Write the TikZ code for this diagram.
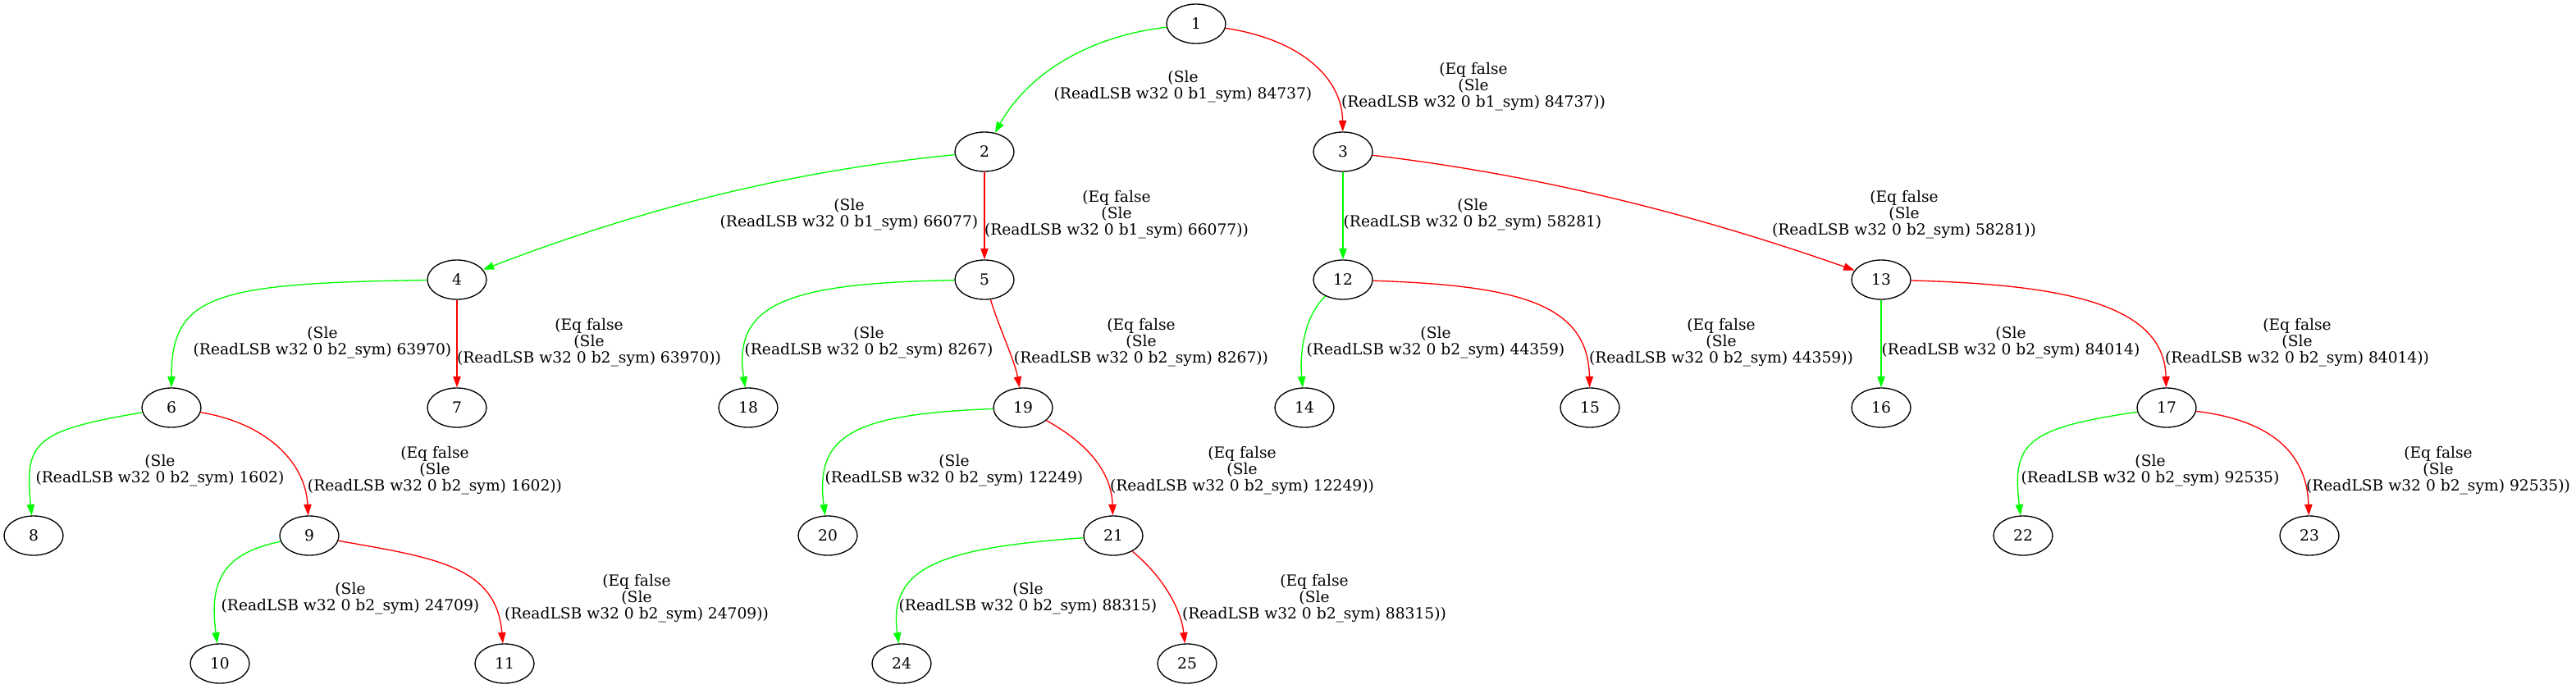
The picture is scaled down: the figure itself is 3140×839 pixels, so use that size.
\documentclass[tikz,border=0pt]{standalone}
\usepackage{fontspec}
\setmainfont{DejaVu Serif}
\usetikzlibrary{arrows.meta,shapes.geometric}
\definecolor{gvgreen}{RGB}{0,255,0}
\definecolor{gvred}{RGB}{255,0,0}
\begin{document}
\begin{tikzpicture}[x=0.75pt,y=-0.75pt,
  st/.style={draw=black,line width=1pt,ellipse,minimum width=54pt,minimum height=36pt,inner sep=0pt,font=\fontsize{14}{15}\selectfont},
  lb/.style={align=center,inner sep=0pt,font=\fontsize{14}{15}\selectfont},
  ge/.style={draw=gvgreen,line width=1pt,-{Triangle[length=10pt,width=7pt,fill=gvgreen]}},
  re/.style={draw=gvred,line width=1pt,-{Triangle[length=10pt,width=7pt,fill=gvred]}}]
\useasboundingbox (0,0) rectangle (3140,839);
% nodes
\node[st] (n1)  at (1458,29)  {1};
\node[st] (n2)  at (1200,185) {2};
\node[st] (n3)  at (1637,185) {3};
\node[st] (n4)  at (557,341)  {4};
\node[st] (n5)  at (1200,341) {5};
\node[st] (n12) at (1637,341) {12};
\node[st] (n13) at (2293,341) {13};
\node[st] (n6)  at (209,497)  {6};
\node[st] (n7)  at (557,497)  {7};
\node[st] (n18) at (912,497)  {18};
\node[st] (n19) at (1247,497) {19};
\node[st] (n14) at (1590,497) {14};
\node[st] (n15) at (1938,497) {15};
\node[st] (n16) at (2293,497) {16};
\node[st] (n17) at (2641,497) {17};
\node[st] (n8)  at (41,653)   {8};
\node[st] (n9)  at (377,653)  {9};
\node[st] (n20) at (1009,653) {20};
\node[st] (n21) at (1357,653) {21};
\node[st] (n22) at (2466,653) {22};
\node[st] (n23) at (2815,653) {23};
\node[st] (n10) at (268,809)  {10};
\node[st] (n11) at (615,809)  {11};
\node[st] (n24) at (1099,809) {24};
\node[st] (n25) at (1447,809) {25};
% edges
\draw[ge] (n1) .. controls (1320,45) and (1250,95) .. (n2);
\draw[re] (n1) .. controls (1585,48) and (1636,95) .. (n3);
\draw[ge] (n2) .. controls (1000,205) and (820,240) .. (n4);
\draw[re] (n2) -- (n5);
\draw[ge] (n3) -- (n12);
\draw[re] (n3) .. controls (1830,208) and (2020,245) .. (n13);
\draw[ge] (n4) .. controls (260,345) and (209,360) .. (n6);
\draw[re] (n4) -- (n7);
\draw[ge] (n5) .. controls (960,345) and (893,370) .. (n18);
\draw[re] (n5) .. controls (1218,400) and (1237,440) .. (n19);
\draw[ge] (n12) .. controls (1590,385) and (1584,430) .. (n14);
\draw[re] (n12) .. controls (1850,348) and (1936,370) .. (n15);
\draw[ge] (n13) -- (n16);
\draw[re] (n13) .. controls (2520,347) and (2638,372) .. (n17);
\draw[ge] (n6) .. controls (40,525) and (30,540) .. (n8);
\draw[re] (n6) .. controls (320,515) and (372,560) .. (n9);
\draw[ge] (n19) .. controls (1040,505) and (993,530) .. (n20);
\draw[re] (n19) .. controls (1325,540) and (1355,575) .. (n21);
\draw[ge] (n17) .. controls (2470,522) and (2452,540) .. (n22);
\draw[re] (n17) .. controls (2765,512) and (2812,550) .. (n23);
\draw[ge] (n9) .. controls (270,675) and (255,710) .. (n10);
\draw[re] (n9) .. controls (530,680) and (605,690) .. (n11);
\draw[ge] (n21) .. controls (1150,668) and (1082,690) .. (n24);
\draw[re] (n21) .. controls (1420,705) and (1440,745) .. (n25);
% labels
\node[lb] (l12)   at (1442,106) {(Sle\\(ReadLSB w32 0 b1\_sym) 84737)};
\node[lb] (l13)   at (1796,106) {(Eq false\\(Sle\\(ReadLSB w32 0 b1\_sym) 84737))};
\node[lb] (l24)   at (1035,262) {(Sle\\(ReadLSB w32 0 b1\_sym) 66077)};
\node[lb] (l25)   at (1361,262) {(Eq false\\(Sle\\(ReadLSB w32 0 b1\_sym) 66077))};
\node[lb] (l312)  at (1795,262) {(Sle\\(ReadLSB w32 0 b2\_sym) 58281)};
\node[lb] (l313)  at (2321,262) {(Eq false\\(Sle\\(ReadLSB w32 0 b2\_sym) 58281))};
\node[lb] (l46)   at (393,418)  {(Sle\\(ReadLSB w32 0 b2\_sym) 63970)};
\node[lb] (l47)   at (718,418)  {(Eq false\\(Sle\\(ReadLSB w32 0 b2\_sym) 63970))};
\node[lb] (l518)  at (1059,418) {(Sle\\(ReadLSB w32 0 b2\_sym) 8267)};
\node[lb] (l519)  at (1391,418) {(Eq false\\(Sle\\(ReadLSB w32 0 b2\_sym) 8267))};
\node[lb] (l1214) at (1750,418) {(Sle\\(ReadLSB w32 0 b2\_sym) 44359)};
\node[lb] (l1215) at (2098,418) {(Eq false\\(Sle\\(ReadLSB w32 0 b2\_sym) 44359))};
\node[lb] (l1316) at (2451,418) {(Sle\\(ReadLSB w32 0 b2\_sym) 84014)};
\node[lb] (l1317) at (2800,418) {(Eq false\\(Sle\\(ReadLSB w32 0 b2\_sym) 84014))};
\node[lb] (l68)   at (195,574)  {(Sle\\(ReadLSB w32 0 b2\_sym) 1602)};
\node[lb] (l69)   at (530,574)  {(Eq false\\(Sle\\(ReadLSB w32 0 b2\_sym) 1602))};
\node[lb] (l1920) at (1163,574) {(Sle\\(ReadLSB w32 0 b2\_sym) 12249)};
\node[lb] (l1921) at (1514,574) {(Eq false\\(Sle\\(ReadLSB w32 0 b2\_sym) 12249))};
\node[lb] (l1722) at (2621,574) {(Sle\\(ReadLSB w32 0 b2\_sym) 92535)};
\node[lb] (l1723) at (2972,574) {(Eq false\\(Sle\\(ReadLSB w32 0 b2\_sym) 92535))};
\node[lb] (l910)  at (427,730)  {(Sle\\(ReadLSB w32 0 b2\_sym) 24709)};
\node[lb] (l911)  at (776,730)  {(Eq false\\(Sle\\(ReadLSB w32 0 b2\_sym) 24709))};
\node[lb] (l2124) at (1253,730) {(Sle\\(ReadLSB w32 0 b2\_sym) 88315)};
\node[lb] (l2125) at (1602,730) {(Eq false\\(Sle\\(ReadLSB w32 0 b2\_sym) 88315))};
\end{tikzpicture}
\end{document}
